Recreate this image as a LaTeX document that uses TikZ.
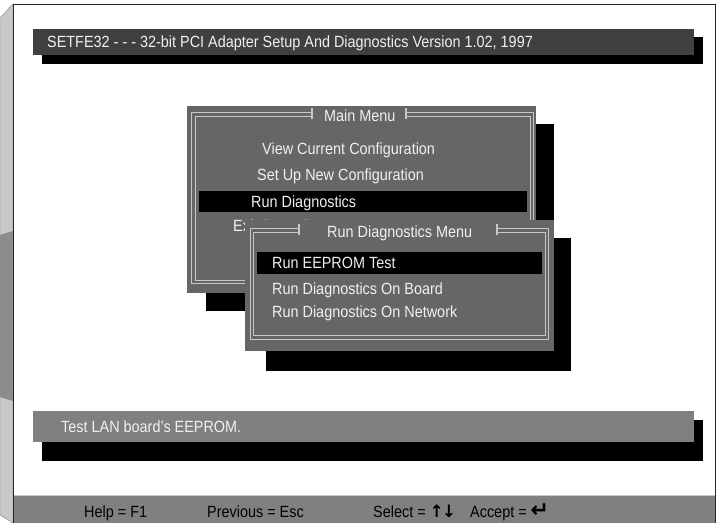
\documentclass[tikz,border=0pt]{standalone}
\usepackage{fontspec}
\setmainfont[FakeStretch=0.89]{Liberation Sans}
\newfontfamily\symfont{DejaVu Sans}
\definecolor{menubg}{RGB}{102,102,102}
\definecolor{titlebg}{RGB}{64,64,64}
\definecolor{statusbg}{RGB}{128,128,128}
\definecolor{bevlight}{RGB}{200,200,200}
\definecolor{bevdark}{RGB}{140,140,140}
\definecolor{dline}{RGB}{200,200,200}
\definecolor{txtw}{RGB}{240,240,240}
\begin{document}
\begin{tikzpicture}[x=1pt,y=-1pt,
  txt/.style={inner sep=0pt,anchor=base west,font=\fontsize{16.2}{18}\selectfont},
  wtxt/.style={txt,text=txtw},
  btxt/.style={txt,text=black},
  dbl/.style={draw=dline,line width=1pt},
  tick/.style={draw=dline,line width=1.2pt}]
\useasboundingbox (0,0) rectangle (718,523);
% page
\fill[white] (13,4) rectangle (716,523);
% left bevel
\fill[bevlight,draw=gray,line width=0.4pt] (0,18) -- (13,4) -- (13,523) -- (0,515) -- cycle;
\fill[bevdark] (0,235) -- (13,231) -- (13,401) -- (0,397) -- cycle;
% frame lines
\draw[black!85,line width=1.5pt] (13.5,523) -- (13.5,4.5) -- (715.5,4.5) -- (715.5,523);
% title bar
\fill[black] (42,37) rectangle (703,64);
\fill[titlebg] (33,29) rectangle (694,55);
\node[wtxt] (title) at (47,47.5) {SETFE32 - - - 32-bit PCI Adapter Setup And Diagnostics Version 1.02, 1997};
% main menu
\fill[black] (206,124) rectangle (554,311);
\fill[menubg] (187,106) rectangle (536,293);
\draw[dbl] (312,112) -- (191,112) -- (191,283) -- (533,283) -- (533,112) -- (406,112);
\draw[dbl] (312,116) -- (195,116) -- (195,280) -- (530,280) -- (530,116) -- (406,116);
\draw[tick] (312,108) -- (312,119);
\draw[tick] (406,108) -- (406,119);
\node[wtxt] (mtitle) at (324,121) {Main Menu};
\node[wtxt] (m1) at (262,154) {View Current Configuration};
\node[wtxt] (m2) at (257,180) {Set Up New Configuration};
\fill[black] (199,191) rectangle (527,212);
\node[wtxt] (m3) at (251,207) {Run Diagnostics};
\node[wtxt] (m4) at (233,231) {Exit Setup Program};
% run diagnostics menu
\fill[black] (266,238) rectangle (571,371);
\fill[menubg] (245,220) rectangle (554,351);
\draw[dbl] (299,228) -- (250,228) -- (250,339) -- (548,339) -- (548,228) -- (497,228);
\draw[dbl] (299,232) -- (253,232) -- (253,335) -- (545,335) -- (545,232) -- (497,232);
\draw[tick] (299,224) -- (299,235);
\draw[tick] (497,224) -- (497,235);
\node[wtxt] (dtitle) at (327,237.5) {Run Diagnostics Menu};
\fill[black] (257,252) rectangle (542,274);
\node[wtxt] (d1) at (272,268) {Run EEPROM Test};
\node[wtxt] (d2) at (272,294) {Run Diagnostics On Board};
\node[wtxt] (d3) at (272,317) {Run Diagnostics On Network};
% status bar
\fill[black] (42,420) rectangle (703,461);
\fill[statusbg] (33,411) rectangle (694,442);
\node[wtxt] (status) at (61,432) {Test LAN board's EEPROM.};
% footer
\fill[statusbg] (14.3,495) rectangle (714.7,523);
\draw[bevlight,line width=1pt] (14.3,495.5) -- (714.7,495.5);
\node[btxt] (f1) at (84,517) {Help = F1};
\node[btxt] (f2) at (207,517) {Previous = Esc};
\node[btxt] (f3) at (373,517) {Select = {\symfont\bfseries\fontsize{17}{18}\selectfont ↑\kern-2pt↓}};
\node[btxt] (f4) at (470,517) {Accept = {\symfont\bfseries\fontsize{22}{22}\selectfont ↵}};
\end{tikzpicture}
\end{document}
